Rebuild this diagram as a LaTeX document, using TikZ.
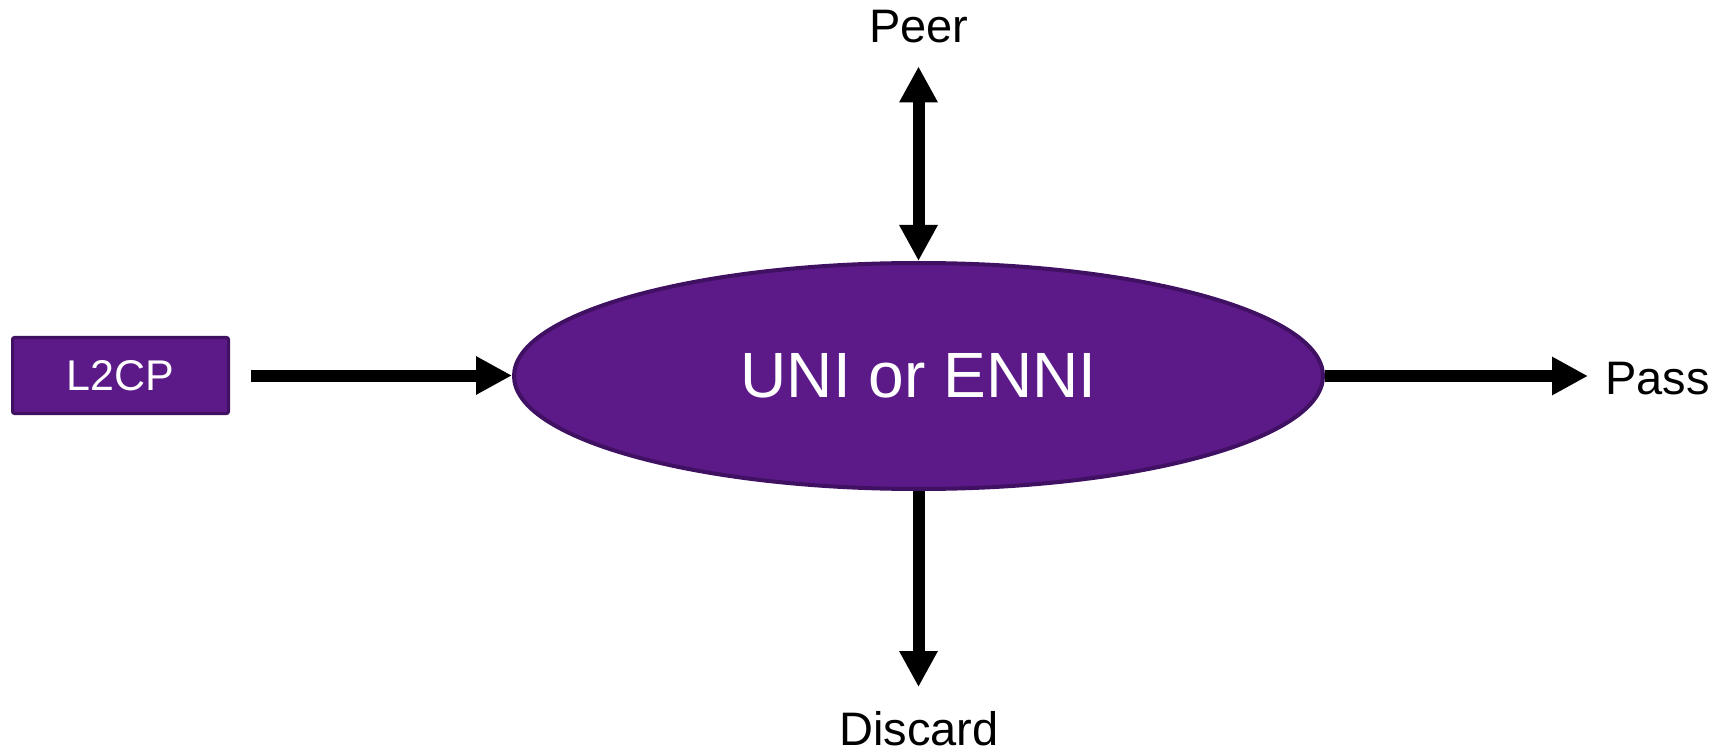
\documentclass[tikz,border=0pt]{standalone}
\usepackage{fontspec}
\setmainfont{Liberation Sans}
\usetikzlibrary{shapes.geometric,arrows.meta}
\definecolor{unifill}{RGB}{92,26,137}
\definecolor{uniedge}{RGB}{64,16,98}
\begin{document}
\begin{tikzpicture}[x=0.5pt,y=-0.5pt,
  tip/.tip={Triangle[length=18pt,width=18pt]},
  flow/.style={line width=6pt,-tip},
  twoway/.style={line width=6pt,tip-tip},
  txt/.style={inner sep=0pt,font=\fontsize{23.5}{28}\selectfont,anchor=base},
  purplebox/.style={fill=unifill,draw=uniedge,text=white}]
\useasboundingbox (0,0) rectangle (1727,748);

% central interface
\node[purplebox, ellipse, line width=2pt, minimum width=404.5pt, minimum height=113pt,
      inner sep=0pt, font=\fontsize{32}{36}\selectfont] (uni) at (918.5,376) {UNI or ENNI};

% incoming protocol frames
\node[purplebox, rectangle, line width=1.5pt, rounded corners=1pt, minimum width=108pt,
      minimum height=38pt, inner sep=0pt, font=\fontsize{21.5}{25}\selectfont] (l2cp) at (120.5,375.5) {L2CP};

% possible actions
\node[txt] (peer) at (919,42.5) {Peer};
\node[txt] (discard) at (919,745.5) {Discard};
\node[txt, anchor=base west] (pass) at (1605,394) {Pass};

% connectors
\draw[flow, shorten <=10.5pt] (l2cp.east) -- (l2cp.east -| uni.west);
\draw[flow, shorten >=8.5pt] (uni.east) -- (uni.east -| pass.west);
\draw[twoway, shorten >=11.5pt] (uni.north) -- (uni.north |- peer.south);
\draw[flow, shorten >=12pt] (uni.south) -- (uni.south |- discard.north);
\end{tikzpicture}
\end{document}
